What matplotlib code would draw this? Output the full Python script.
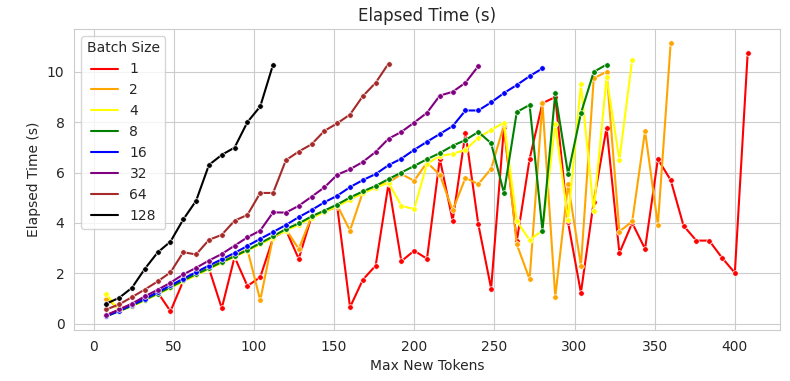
import matplotlib
matplotlib.use('Agg')
import matplotlib.pyplot as plt
import seaborn as sns
import numpy as np

sns.set_style('whitegrid')

# elapsed time (s) per batch size, max new tokens goes 8, 16, 24, ...
batch_sizes = [1, 2, 4, 8, 16, 32, 64, 128]
colors = ['red', 'orange', 'yellow', 'green', 'blue', 'purple', 'brown', 'black']

bs1 = [0.35, 0.55, 0.78, 1.0, 1.25, 0.5, 1.7, 1.95, 2.2, 0.62,
       2.65, 1.5, 1.85, 3.4, 3.72, 2.58, 4.25, 4.45, 4.65, 0.66,
       1.75, 2.31, 5.55, 2.48, 2.9, 2.58, 6.55, 4.09, 7.57, 3.95,
       1.4, 7.8, 3.28, 6.54, 8.75, 8.99, 4.02, 1.23, 4.85, 7.78,
       2.81, 4.0, 2.97, 6.53, 5.7, 3.89, 3.3, 3.3, 2.62, 2.02,
       10.72]
bs2 = [1.0, 0.6, 0.75, 0.97, 1.22, 1.47, 1.73, 1.98, 2.22, 2.47,
       2.7, 2.95, 0.93, 3.45, 3.75, 2.97, 4.25, 4.47, 4.7, 3.7,
       5.22, 5.45, 5.6, 5.94, 5.67, 6.4, 5.91, 4.5, 5.79, 5.54,
       6.15, 7.88, 3.15, 1.77, 8.75, 1.06, 5.54, 2.31, 9.73, 10.0,
       3.66, 4.06, 7.65, 3.92, 11.15]
bs4 = [1.19, 0.5, 0.7, 0.93, 1.18, 1.42, 1.68, 1.93, 2.17, 2.42,
       2.65, 2.9, 3.15, 3.42, 3.7, 3.93, 4.2, 4.43, 4.66, 4.93,
       5.17, 5.4, 5.6, 4.68, 4.55, 6.35, 6.66, 6.74, 6.9, 7.38,
       7.69, 7.98, 4.06, 3.33, 3.7, 7.92, 4.12, 9.5, 4.49, 9.77,
       6.5, 10.48]
bs8 = [0.3, 0.5, 0.72, 0.95, 1.2, 1.45, 1.72, 1.97, 2.2, 2.45,
       2.68, 2.93, 3.2, 3.47, 3.76, 3.98, 4.26, 4.49, 4.73, 5.01,
       5.25, 5.47, 5.74, 6.0, 6.26, 6.53, 6.77, 7.06, 7.29, 7.61,
       7.16, 5.19, 8.4, 8.68, 3.7, 9.14, 5.94, 8.35, 9.99, 10.28]
bs16 = [0.3, 0.52, 0.75, 0.99, 1.25, 1.52, 1.79, 2.05, 2.31, 2.56,
        2.81, 3.09, 3.37, 3.64, 3.92, 4.23, 4.51, 4.82, 5.08, 5.42,
        5.7, 5.94, 6.29, 6.55, 6.9, 7.22, 7.53, 7.84, 8.46, 8.46,
        8.78, 9.15, 9.47, 9.82, 10.13]
bs32 = [0.34, 0.57, 0.8, 1.09, 1.35, 1.63, 1.96, 2.22, 2.51, 2.77,
        3.1, 3.43, 3.7, 4.42, 4.41, 4.68, 5.04, 5.41, 5.91, 6.13,
        6.42, 6.82, 7.34, 7.61, 7.98, 8.37, 9.05, 9.2, 9.56, 10.22]
bs64 = [0.57, 0.77, 1.06, 1.36, 1.68, 2.04, 2.84, 2.75, 3.33, 3.53,
        4.09, 4.32, 5.19, 5.19, 6.49, 6.83, 7.12, 7.65, 7.95, 8.3,
        9.03, 9.56, 10.32]
bs128 = [0.8, 1.03, 1.43, 2.18, 2.83, 3.26, 4.14, 4.88, 6.3, 6.7,
         6.99, 8.0, 8.62, 10.28]

series = [bs1, bs2, bs4, bs8, bs16, bs32, bs64, bs128]

fig, ax = plt.subplots(figsize=(7.9, 3.81), dpi=100)
fig.subplots_adjust(left=0.094, right=0.987, bottom=0.134, top=0.924)

for bs, vals, c in zip(batch_sizes, series, colors):
    tokens = 8 * np.arange(1, len(vals) + 1)
    ax.plot(tokens, vals, color=c, lw=1.5, marker='o', markersize=4,
            markeredgecolor='white', markeredgewidth=0.5, label=str(bs))

ax.set_title('Elapsed Time (s)')
ax.set_xlabel('Max New Tokens')
ax.set_ylabel('Elapsed Time (s)')
leg = ax.legend(title='Batch Size', loc='upper left')
for h in leg.legend_handles:
    h.set_marker('')

fig.savefig('out.png')
